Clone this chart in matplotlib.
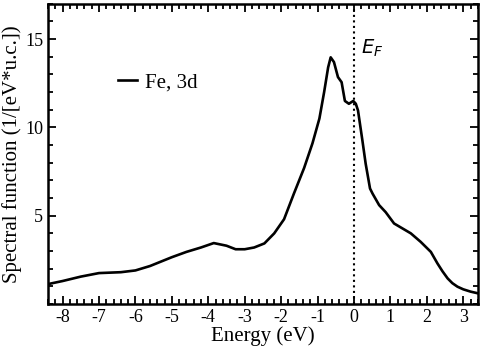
import numpy as np
import matplotlib.pyplot as plt
from matplotlib.ticker import MultipleLocator

# Fe 3d spectral function
energy = [-8.39, -8.0, -7.5, -7.0, -6.4, -6.0, -5.6, -5.3, -5.0, -4.6, -4.2, -3.85,
          -3.5, -3.25, -3.0, -2.74, -2.46, -2.19, -1.92, -1.65, -1.37,
          -1.14, -0.95, -0.82, -0.71, -0.64, -0.55, -0.44, -0.34, -0.25, -0.14,
          -0.02, 0.05, 0.11, 0.23, 0.32, 0.44, 0.51, 0.69, 0.87, 1.1, 1.33, 1.56,
          1.83, 2.11, 2.29, 2.43, 2.57, 2.7, 2.84, 3.0, 3.2, 3.41]
spectral = [1.13, 1.3, 1.55, 1.75, 1.8, 1.9, 2.15, 2.4, 2.65, 2.95, 3.2, 3.45,
            3.3, 3.1, 3.1, 3.2, 3.43, 4.0, 4.8, 6.25, 7.7,
            9.1, 10.5, 12.0, 13.4, 13.97, 13.7, 12.85, 12.56, 11.5, 11.34,
            11.5, 11.34, 10.96, 9.27, 7.95, 6.54, 6.25, 5.6, 5.2, 4.56, 4.28, 4.0,
            3.52, 2.95, 2.3, 1.85, 1.45, 1.18, 0.98, 0.83, 0.7, 0.6]

plt.rcParams['font.family'] = ['Liberation Serif', 'DejaVu Serif']
plt.rcParams['mathtext.fontset'] = 'dejavusans'

fig = plt.figure(figsize=(4.85, 3.49), dpi=100)
ax = fig.add_axes([0.099, 0.129, 0.887, 0.86])

ax.plot(energy, spectral, color='black', linewidth=1.9, label='Fe, 3d')
ax.axvline(0, color='black', linestyle=':', linewidth=1.5)
ax.text(0.2, 14.2, r'$E_F$', fontsize=14, va='baseline')

ax.set_xlim(-8.4, 3.41)
ax.set_ylim(0, 17)
ax.xaxis.set_major_locator(MultipleLocator(1))
ax.xaxis.set_minor_locator(MultipleLocator(0.2))
ax.yaxis.set_major_locator(MultipleLocator(5))
ax.yaxis.set_minor_locator(MultipleLocator(1))
ax.tick_params(which='both', direction='in', top=True, right=True, width=1.3,
               labelsize=13)
ax.tick_params(which='major', length=6)
ax.tick_params(which='minor', length=3.5)
ax.set_yticks([5, 10, 15])
ax.set_xticks(range(-8, 4))
ax.set_xticklabels([str(v) for v in range(-8, 4)])
for s in ax.spines.values():
    s.set_linewidth(1.8)

ax.set_xlabel('Energy (eV)', fontsize=15, labelpad=0)
ax.set_ylabel('Spectral function (1/[eV*u.c.])', fontsize=15, labelpad=2)

ax.legend(loc='center left', bbox_to_anchor=(0.163, 0.737), frameon=False,
          fontsize=15, handlelength=0.9, handletextpad=0.4,
          borderpad=0, borderaxespad=0)

fig.savefig('out.png', dpi=100)
